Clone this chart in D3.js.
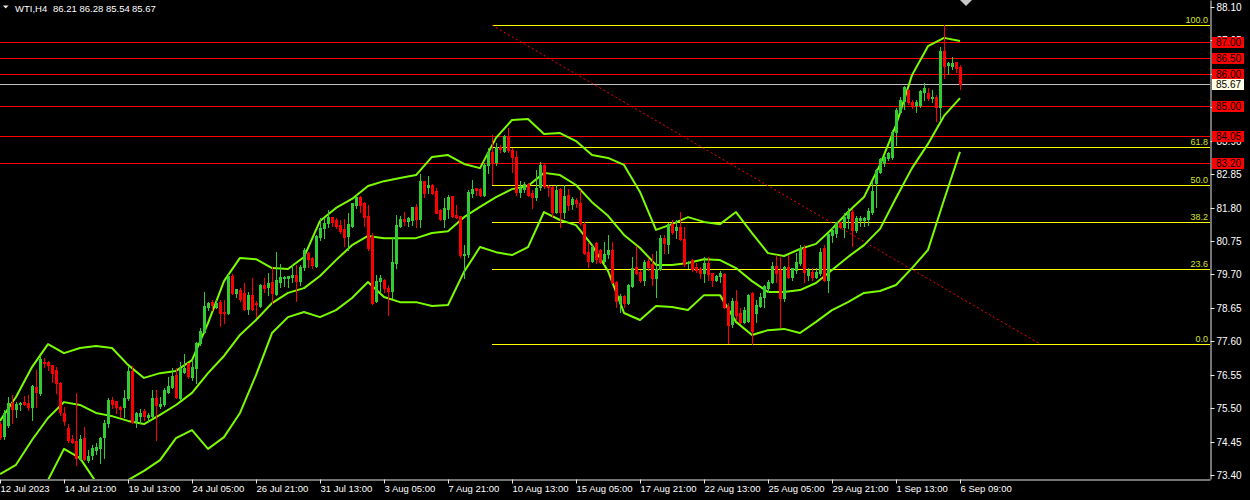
<!DOCTYPE html>
<html><head><meta charset="utf-8">
<script src="https://cdn.jsdelivr.net/npm/d3@7/dist/d3.min.js"></script>
<style>
html,body{margin:0;padding:0;background:#000;overflow:hidden;}
svg{display:block;}
</style></head>
<body>
<svg id="chart" width="1250" height="500"></svg>
<script>
// ---------- DATA (WTI, H4) ----------
const openP = [75.00,74.63,74.97,75.66,75.47,75.63,75.69,75.66,75.54,76.17,75.98,76.95,76.95,76.86,76.70,76.29,75.35,74.88,74.53,74.47,
73.90,74.57,73.87,74.03,74.19,74.25,74.60,75.04,75.76,75.73,75.54,75.54,75.82,76.67,75.10,75.25,75.41,75.22,75.25,75.82,
75.57,75.63,76.01,76.17,76.54,75.82,76.64,76.92,76.48,76.76,77.55,77.89,78.68,78.83,78.68,78.83,78.52,78.49,79.65,79.12,
79.21,79.12,78.62,79.06,78.80,78.71,79.37,79.31,79.46,79.09,79.46,79.59,79.59,79.62,79.68,79.50,79.93,80.37,80.22,79.97,
80.88,81.16,81.32,81.50,81.41,81.25,81.13,80.91,81.22,81.88,82.13,81.94,81.54,80.91,78.87,79.50,79.53,79.27,79.18,80.06,
81.22,81.44,81.38,81.41,81.82,81.44,82.64,82.45,82.51,82.32,81.72,81.44,81.76,82.16,81.57,81.54,80.31,80.34,82.26,82.42,
82.38,82.19,83.14,83.55,83.23,83.70,83.58,84.05,83.61,83.39,82.29,82.38,82.54,82.26,82.13,82.45,83.14,82.48,82.45,81.66,
82.38,81.66,82.19,81.91,82.04,81.94,81.28,80.41,80.12,80.69,80.47,80.12,80.34,80.47,79.46,78.80,79.02,78.80,79.34,79.93,
79.78,79.53,80.12,80.03,79.59,79.87,80.85,80.66,81.28,81.10,81.19,80.82,80.06,80.15,79.93,79.87,79.75,80.06,79.75,79.53,
79.65,79.72,78.71,78.14,78.87,78.49,78.21,78.24,79.12,78.49,78.71,78.99,79.28,79.46,79.97,79.84,78.96,79.93,79.62,79.84,
80.06,80.53,79.68,79.78,79.62,79.75,80.53,79.53,80.94,81.00,81.35,81.19,81.47,81.66,81.10,81.41,81.41,81.44,81.66,82.57,
82.92,83.20,83.36,83.39,84.17,84.80,85.15,85.49,85.12,85.02,85.02,85.43,85.40,85.24,85.27,84.96,86.72,86.28,86.25,86.37,
86.21];
const highP = [75.07,75.44,75.85,75.91,75.69,75.69,75.88,75.91,76.23,76.70,77.11,77.08,76.98,76.87,76.79,76.32,75.54,75.00,74.66,75.98,
74.66,74.91,74.19,74.35,74.41,74.60,75.13,75.82,75.85,75.74,75.57,76.07,76.79,76.83,75.38,75.47,75.47,75.35,76.07,76.07,
75.85,76.14,76.48,76.76,76.76,76.95,77.20,76.93,77.01,77.58,78.02,79.15,78.83,78.90,78.90,78.90,78.90,79.72,79.72,79.25,
79.27,79.43,79.15,79.59,78.87,79.40,79.59,79.75,79.93,80.41,80.03,79.65,79.66,80.00,80.00,80.00,80.53,80.41,80.25,80.94,
81.47,81.47,81.72,81.51,81.47,81.41,81.44,81.63,81.95,82.19,82.16,81.97,81.88,81.00,79.68,79.68,79.56,79.37,80.85,81.57,
81.54,81.66,81.50,81.83,81.91,82.85,82.65,82.79,82.54,82.42,81.75,82.10,82.19,82.17,81.88,81.55,80.63,82.35,82.67,82.43,
82.42,83.20,83.67,84.08,83.83,83.76,84.08,84.30,83.67,83.58,82.64,82.60,82.57,82.35,82.98,83.23,83.17,82.51,82.48,82.51,
82.42,82.51,82.38,82.13,82.10,82.35,81.35,80.69,80.63,80.72,80.50,80.72,80.94,80.72,79.50,79.09,79.06,79.40,80.25,80.60,
79.84,80.15,80.22,80.34,80.44,80.94,80.94,81.32,81.41,81.41,81.66,81.19,80.12,80.19,80.06,79.93,80.25,80.25,79.76,79.68,
79.81,79.75,78.80,78.96,79.21,78.65,78.68,79.09,79.15,78.90,79.12,79.37,79.53,80.09,80.31,80.25,79.97,80.31,79.91,80.37,
80.63,80.63,79.90,79.90,79.90,80.53,80.63,81.00,81.16,81.36,81.36,81.63,81.79,81.76,81.54,81.54,81.51,81.79,82.60,83.01,
83.36,83.45,83.55,84.24,84.93,85.27,85.62,85.52,85.18,85.18,85.49,85.71,85.55,85.49,85.34,86.84,87.53,86.37,86.53,86.38,
86.28];
const lowP = [74.53,74.53,74.91,75.04,75.22,75.44,75.60,75.44,75.13,75.54,75.91,76.79,76.70,76.32,75.98,75.29,74.97,74.44,74.41,73.71,
73.87,73.87,73.81,73.90,74.06,73.78,73.93,74.91,75.50,75.35,75.22,75.22,75.76,75.04,74.91,75.04,75.13,75.07,75.19,74.50,
75.50,75.57,75.98,76.14,75.82,75.76,76.61,76.45,76.40,76.29,77.48,77.86,78.58,78.58,78.65,78.08,78.17,78.46,79.09,78.99,
78.87,78.58,78.46,78.58,78.36,78.68,79.15,79.06,78.80,79.06,79.31,79.34,79.31,79.46,78.87,79.37,79.84,79.93,79.90,79.93,
80.78,80.85,81.19,81.22,81.16,81.00,80.60,80.47,81.19,81.79,81.66,81.22,80.47,78.77,78.83,79.15,79.15,78.43,78.96,79.90,
81.19,81.25,81.22,81.25,81.19,81.19,82.13,82.26,82.23,81.62,81.41,81.19,81.47,81.51,81.47,80.25,79.59,80.25,82.13,82.19,
82.16,82.16,82.89,82.54,83.14,83.55,83.55,83.55,82.92,82.19,82.13,82.29,82.16,81.79,82.04,82.35,82.42,82.16,81.50,81.63,
81.19,81.47,81.72,81.76,81.82,81.25,80.35,79.93,80.09,80.06,80.06,80.03,80.22,79.43,78.68,78.52,78.68,78.77,79.31,79.72,
79.46,79.37,79.84,79.37,78.99,79.84,80.37,80.37,80.97,80.85,80.78,79.97,79.90,79.81,79.78,79.59,79.46,79.53,79.34,79.50,
79.46,78.65,77.55,78.05,78.30,78.17,78.17,78.21,77.52,78.21,78.68,78.68,79.15,79.43,79.46,78.05,78.87,79.59,79.53,79.75,
80.00,79.46,79.53,79.53,79.59,79.68,79.50,79.15,80.72,80.88,81.16,80.88,81.16,80.60,81.03,81.22,81.22,81.25,81.60,81.82,
82.89,83.10,83.29,83.32,83.77,84.77,84.90,85.05,84.93,84.80,84.96,85.18,85.18,85.12,84.52,84.55,85.87,86.00,86.15,86.06,
85.54];
const closeP = [74.60,75.35,75.66,75.47,75.63,75.66,75.63,75.54,76.20,76.01,77.04,76.92,76.86,76.61,76.29,75.38,75.10,74.50,74.44,73.93,
74.53,73.90,74.00,74.25,74.28,74.57,75.04,75.76,75.63,75.54,75.47,75.82,76.67,75.07,75.35,75.35,75.25,75.29,75.82,75.60,
75.63,76.07,76.20,76.51,75.85,76.76,76.76,76.51,76.79,77.55,77.92,78.71,78.80,78.74,78.80,78.49,78.49,79.65,79.12,79.24,
78.93,78.62,79.06,78.62,78.77,79.37,79.27,79.43,79.12,79.53,79.62,79.62,79.65,79.68,79.50,79.93,80.47,80.19,80.00,80.91,
81.16,81.32,81.50,81.35,81.22,81.06,80.88,81.28,81.94,82.13,81.88,81.50,80.53,78.80,79.50,79.59,79.27,79.18,80.09,81.25,
81.44,81.38,81.47,81.82,81.44,82.64,82.26,82.51,82.26,81.63,81.44,81.79,82.13,81.54,81.51,80.31,80.34,82.29,82.38,82.35,
82.19,83.14,83.55,83.23,83.70,83.64,84.05,83.61,83.39,82.29,82.42,82.54,82.20,82.13,82.42,83.14,82.48,82.45,81.66,82.35,
81.66,82.16,81.88,82.07,81.94,81.32,80.37,80.12,80.56,80.19,80.09,80.34,80.47,79.46,78.87,79.02,78.80,79.37,79.90,79.75,
79.53,80.09,79.93,79.59,79.87,80.85,80.69,81.28,81.03,81.19,80.82,80.03,80.09,79.87,79.84,79.75,80.06,79.72,79.53,79.65,
79.75,78.68,78.11,78.87,78.43,78.21,78.58,79.06,77.92,78.74,78.99,79.34,79.46,79.97,79.75,78.96,79.93,79.62,79.90,80.09,
80.53,79.78,79.84,79.62,79.78,80.41,79.53,80.97,81.10,81.35,81.19,81.50,81.66,81.10,81.47,81.47,81.47,81.69,82.32,82.98,
83.32,83.39,83.51,84.17,84.87,85.18,85.59,85.12,84.99,85.12,85.46,85.55,85.24,85.27,84.96,86.72,86.25,86.34,86.34,86.18,
85.67];

// Bollinger bands, read every 4th bar
const bbStep = 4;
const bbUpper = [75.10,75.85,76.79,77.51,77.23,77.39,77.45,77.39,76.86,76.45,76.60,76.67,77.01,78.17,79.49,80.22,80.18,79.90,79.87,80.25,
81.38,81.79,82.07,82.48,82.63,82.73,82.82,83.39,83.45,83.17,83.04,83.99,84.55,84.58,84.11,84.14,83.89,83.45,83.36,83.14,
82.29,81.10,81.28,81.50,81.35,81.28,81.66,81.00,80.37,80.28,80.50,80.66,81.13,81.66,82.13,83.14,84.39,85.96,86.87,87.13,87.03];
const bbMid = [73.43,73.72,74.50,75.19,75.69,75.60,75.35,75.25,75.10,75.00,75.29,75.60,75.98,76.60,77.14,77.80,78.27,78.80,79.12,79.27,
79.65,80.15,80.62,80.91,80.84,80.84,80.84,81.00,81.06,81.50,81.82,82.13,82.38,82.48,82.89,82.82,82.51,81.97,81.54,80.94,
80.53,80.00,80.00,80.06,80.18,80.15,79.90,79.49,79.15,79.15,79.21,79.43,79.84,80.25,80.62,81.13,82.10,83.04,83.80,84.68,85.24];
const bbLower = [72.30,72.62,72.99,73.24,74.22,73.93,73.18,72.93,73.24,73.53,73.87,74.56,74.81,74.22,74.59,75.35,76.54,77.86,78.36,78.52,
78.36,78.58,78.96,79.46,78.99,78.83,78.83,78.71,78.74,79.78,80.56,80.40,80.31,80.56,81.66,81.41,81.25,80.62,79.81,78.49,
78.27,78.71,78.68,78.58,79.05,79.05,78.21,77.80,77.95,77.99,77.86,78.21,78.58,78.83,79.12,79.18,79.37,79.90,80.47,82.04,83.55];

const xTickIdx = [0,16,32,48,64,80,96,112,128,144,160,176,192,208,224,240];
const xTickLabels = ["12 Jul 2023","14 Jul 21:00","19 Jul 13:00","24 Jul 05:00","26 Jul 21:00","31 Jul 13:00","3 Aug 05:00",
"7 Aug 21:00","10 Aug 13:00","15 Aug 05:00","17 Aug 21:00","22 Aug 13:00","25 Aug 05:00","29 Aug 21:00","1 Sep 13:00","6 Sep 09:00"];
const yTickValues = [88.10,87.05,86.00,84.95,83.90,82.85,81.80,80.75,79.70,78.65,77.60,76.55,75.50,74.45,73.40];
const redLevels = [87.00,86.50,86.00,85.00,84.05,83.20];
const bidPrice = 85.67;
const fibLevels = [100.0,61.8,50.0,38.2,23.6,0.0];
const fibHigh = 87.53, fibLow = 77.515, fibStartIdx = 123, fibEndIdx = 260;
const titleSymbol = "WTI,H4";
const titleValues = ["86.21","86.28","85.54","85.67"];

// ---------- LAYOUT ----------
const PW = 1210, PH = 479;
const svg = d3.select("#chart");
const FONT = "'Liberation Sans', Arial, sans-serif";
const x = d3.scaleLinear().domain([0, 302.5]).range([0, PW]);
const y = d3.scaleLinear().domain([73.275, 88.32]).range([PH, 0]);
const cy = v => Math.round(y(v)) + 0.5;

svg.append("rect").attr("width",1250).attr("height",500).attr("fill","#000");
svg.append("defs").append("clipPath").attr("id","plot")
  .append("rect").attr("x",0).attr("y",0).attr("width",PW).attr("height",PH);

const plot = svg.append("g").attr("clip-path","url(#plot)");

// horizontal red levels
plot.selectAll("line.red").data(redLevels).join("line")
  .attr("x1",0).attr("x2",PW).attr("y1",cy).attr("y2",cy)
  .attr("stroke","#ff0000").attr("stroke-width",1);

// bid line
plot.append("line").attr("x1",0).attr("x2",PW).attr("y1",cy(bidPrice)).attr("y2",cy(bidPrice))
  .attr("stroke","#c0c0c0").attr("stroke-width",1);

// fibonacci
const fibPrice = l => fibLow + (fibHigh - fibLow) * l / 100;
plot.selectAll("line.fib").data(fibLevels).join("line")
  .attr("x1",Math.round(x(fibStartIdx))).attr("x2",PW)
  .attr("y1",d=>cy(fibPrice(d))).attr("y2",d=>cy(fibPrice(d)))
  .attr("stroke","#ffff00").attr("stroke-width",1);
plot.selectAll("text.fib").data(fibLevels).join("text")
  .attr("x",PW-2).attr("y",d=>Math.round(y(fibPrice(d)))-2)
  .attr("text-anchor","end").attr("font-family",FONT).attr("font-size","9px")
  .attr("fill","#d8e030").text(d=>d.toFixed(1));
plot.append("line")
  .attr("x1",x(fibStartIdx)).attr("y1",y(fibHigh))
  .attr("x2",x(fibEndIdx)).attr("y2",y(fibLow))
  .attr("stroke","#ff0000").attr("stroke-width",1).attr("stroke-dasharray","2,2.6");

// bollinger bands
const bandLine = d3.line().x((d,k)=>x(k*bbStep)).y(d=>y(d));
[bbUpper,bbMid,bbLower].forEach(b=>{
  plot.append("path").attr("d",bandLine(b)).attr("fill","none")
    .attr("stroke","#7cfc00").attr("stroke-width",2).attr("stroke-linejoin","round");
});

// candles
const candles = openP.map((o,i)=>({i,o,h:highP[i],l:lowP[i],c:closeP[i]}));
const cg = plot.append("g");
candles.forEach(d=>{
  const X = Math.round(x(d.i));
  const col = d.c >= d.o ? "#32cd32" : "#ff0000";
  const yh = Math.round(y(d.h)), yl = Math.round(y(d.l));
  cg.append("rect").attr("x",X).attr("y",yh).attr("width",1).attr("height",Math.max(1,yl-yh+1)).attr("fill",col);
  const yt = Math.round(y(Math.max(d.o,d.c))), yb = Math.round(y(Math.min(d.o,d.c)));
  cg.append("rect").attr("x",X-1).attr("y",yt).attr("width",3).attr("height",Math.max(1,yb-yt+1)).attr("fill",col);
});

// chart shift marker
svg.append("path").attr("d","M960,0 L972,0 L966,6 Z").attr("fill","#c8c8c8");

// ---------- AXES ----------
const yAxis = svg.append("g").attr("transform",`translate(${PW+0.5},0)`)
  .call(d3.axisRight(y).tickValues(yTickValues).tickFormat(d3.format(".2f")).tickSize(4).tickSizeOuter(0).tickPadding(2));
yAxis.select(".domain").attr("stroke","#e8e8e8");
yAxis.selectAll(".tick line").attr("stroke","#e8e8e8");
yAxis.selectAll(".tick").attr("transform",d=>`translate(0,${cy(d)})`);
yAxis.selectAll("text").attr("fill","#ffffff").attr("font-family",FONT).attr("font-size","10px");

const xAxis = svg.append("g").attr("transform",`translate(0,${PH+0.5})`)
  .call(d3.axisBottom(x).tickValues(xTickIdx).tickFormat((d,i)=>xTickLabels[i]).tickSize(4).tickSizeOuter(0).tickPadding(2));
xAxis.select(".domain").attr("stroke","#e8e8e8");
xAxis.selectAll(".tick").attr("transform",d=>`translate(${Math.round(x(d))+0.5},0)`);
xAxis.selectAll(".tick line").attr("stroke","#e8e8e8");
xAxis.selectAll("text").attr("fill","#ffffff").attr("font-family",FONT).attr("font-size","9.5px")
  .attr("text-anchor","start").attr("x",0);

// price labels
const lab = svg.append("g");
redLevels.forEach(v=>{
  const yy = Math.round(y(v));
  lab.append("rect").attr("x",PW+2).attr("y",yy-5).attr("width",32).attr("height",11).attr("fill","#ff0000");
  lab.append("text").attr("x",PW+6).attr("y",yy+4).attr("font-family",FONT).attr("font-size","10px")
    .attr("fill","#000").text(v.toFixed(2));
});
{
  const yy = Math.round(y(bidPrice));
  lab.append("rect").attr("x",PW+2).attr("y",yy-5).attr("width",32).attr("height",11).attr("fill","#fffde4");
  lab.append("text").attr("x",PW+6).attr("y",yy+4).attr("font-family",FONT).attr("font-size","10px")
    .attr("fill","#000").text(bidPrice.toFixed(2));
}

// title
svg.append("path").attr("d","M3,5.5 L8.5,5.5 L5.75,8.5 Z").attr("fill","#f0f0f0");
const tt = svg.append("text").attr("y",11.5).attr("font-family",FONT).attr("font-size","9.5px").attr("fill","#ffffff");
tt.append("tspan").attr("x",15).text(titleSymbol);
const tx = [53,79.5,106,132];
titleValues.forEach((t,k)=>tt.append("tspan").attr("x",tx[k]).text(t));
</script>
</body></html>
